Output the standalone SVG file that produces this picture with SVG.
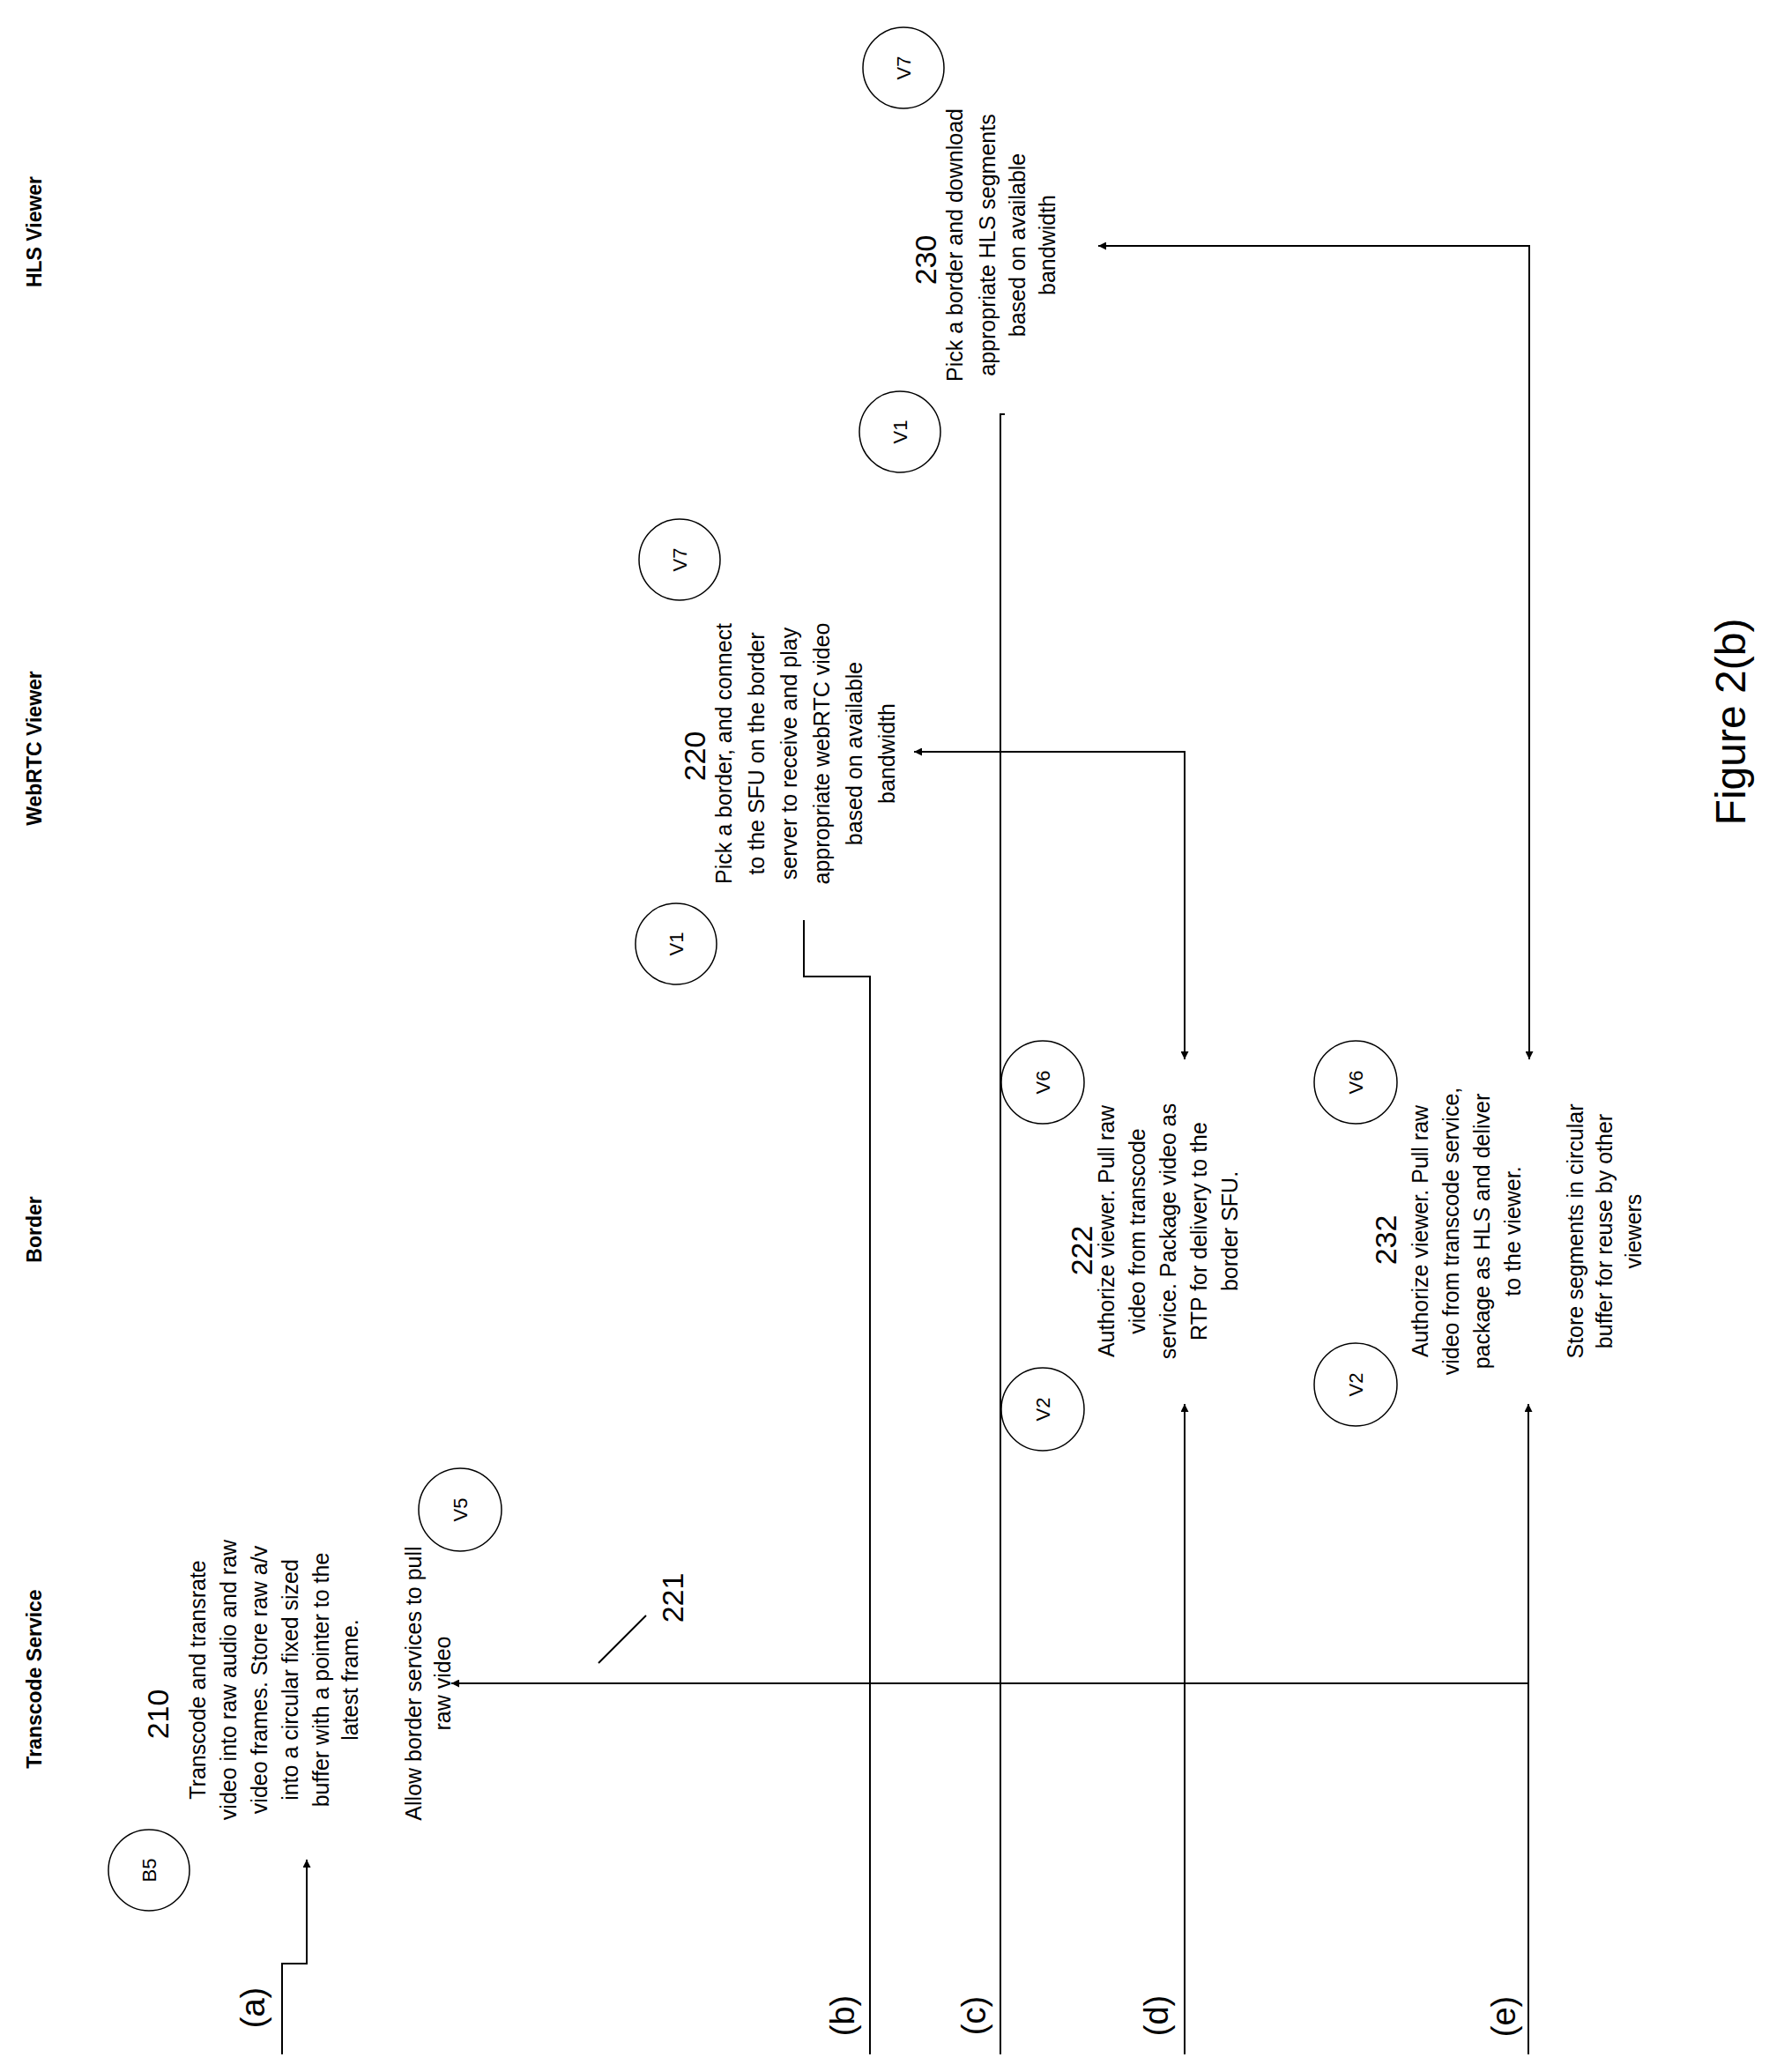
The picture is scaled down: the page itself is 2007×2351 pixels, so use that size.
<svg xmlns="http://www.w3.org/2000/svg" width="2007" height="2351" viewBox="0 0 2007 2351">
<style>
text{font-family:"Liberation Sans",Arial,sans-serif;fill:#000;text-anchor:middle}
.h{font-weight:bold;font-size:23px}
.t{font-size:25px}
.n{font-size:34px}
.l{font-size:38px}
.f{font-size:48px}
circle{fill:#fff;stroke:#000;stroke-width:1.5}
.c{font-size:22px}
.ln{fill:none;stroke:#000;stroke-width:2}
</style>
<defs>
<marker id="ah" viewBox="0 0 10 10" refX="10" refY="5" markerWidth="9" markerHeight="9" markerUnits="userSpaceOnUse" orient="auto-start-reverse"><path d="M0,0 L10,5 L0,10 z" fill="#000"/></marker>
</defs>
<rect width="2007" height="2351" fill="#fff"/>
<g id="headers">
<text class="h" transform="translate(47,1905) rotate(-90)">Transcode Service</text>
<text class="h" transform="translate(47,1395) rotate(-90)">Border</text>
<text class="h" transform="translate(47,849) rotate(-90)">WebRTC Viewer</text>
<text class="h" transform="translate(47,263) rotate(-90)">HLS Viewer</text>
</g>
<g id="connectors">
<path class="ln" d="M320,2331 V2228 H348 V2110" marker-end="url(#ah)"/>
<path class="ln" d="M1734,2331 V1910 H512" marker-end="url(#ah)"/>
<path class="ln" d="M679,1887 L733,1833"/>
<path class="ln" d="M987,2331 V1108 H912 V1044"/>
<path class="ln" d="M1135,2331 V470 H1140"/>
<path class="ln" d="M1344,2331 V1593" marker-end="url(#ah)"/>
<path class="ln" d="M1734,2331 V1593" marker-end="url(#ah)"/>
<path class="ln" d="M1037,853 H1344 V1202" marker-start="url(#ah)" marker-end="url(#ah)"/>
<path class="ln" d="M1246,279 H1735 V1202" marker-start="url(#ah)" marker-end="url(#ah)"/>
</g>
<g id="labels">
<text class="l" transform="translate(300,2278) rotate(-90)">(a)</text>
<text class="l" transform="translate(969,2287) rotate(-90)">(b)</text>
<text class="l" transform="translate(1118,2287) rotate(-90)">(c)</text>
<text class="l" transform="translate(1325,2287) rotate(-90)">(d)</text>
<text class="l" transform="translate(1719,2288) rotate(-90)">(e)</text>
<text class="n" transform="translate(775,1813) rotate(-90)">221</text>
</g>
<g id="node-210">
<circle cx="169" cy="2122" r="46"/><text class="c" transform="translate(177,2122) rotate(-90)">B5</text>
<text class="n" transform="translate(191,1945) rotate(-90)">210</text>
<text class="t" transform="translate(233,1906) rotate(-90)">Transcode and transrate</text>
<text class="t" transform="translate(268,1906) rotate(-90)">video into raw audio and raw</text>
<text class="t" transform="translate(303,1906) rotate(-90)">video frames. Store raw a/v</text>
<text class="t" transform="translate(338,1906) rotate(-90)">into a circular fixed sized</text>
<text class="t" transform="translate(373,1906) rotate(-90)">buffer with a pointer to the</text>
<text class="t" transform="translate(406,1906) rotate(-90)">latest frame.</text>
</g>
<g id="node-v5">
<circle cx="522" cy="1713" r="47"/><text class="c" transform="translate(530,1713) rotate(-90)">V5</text>
<text class="t" transform="translate(478,1910) rotate(-90)">Allow border services to pull</text>
<text class="t" transform="translate(511,1910) rotate(-90)">raw video</text>
</g>
<g id="node-220">
<circle cx="767" cy="1071" r="46"/><text class="c" transform="translate(775,1071) rotate(-90)">V1</text>
<circle cx="771" cy="635" r="46"/><text class="c" transform="translate(779,635) rotate(-90)">V7</text>
<text class="n" transform="translate(800,858) rotate(-90)">220</text>
<text class="t" transform="translate(830,855) rotate(-90)">Pick a border, and connect</text>
<text class="t" transform="translate(867,855) rotate(-90)">to the SFU on the border</text>
<text class="t" transform="translate(904,855) rotate(-90)">server to receive and play</text>
<text class="t" transform="translate(941,855) rotate(-90)">appropriate webRTC video</text>
<text class="t" transform="translate(978,855) rotate(-90)">based on available</text>
<text class="t" transform="translate(1015,855) rotate(-90)">bandwidth</text>
</g>
<g id="node-230">
<circle cx="1021" cy="490" r="46"/><text class="c" transform="translate(1029,490) rotate(-90)">V1</text>
<circle cx="1025" cy="77" r="46"/><text class="c" transform="translate(1033,77) rotate(-90)">V7</text>
<text class="n" transform="translate(1062,295) rotate(-90)">230</text>
<text class="t" transform="translate(1092,278) rotate(-90)">Pick a border and download</text>
<text class="t" transform="translate(1129,278) rotate(-90)">appropriate HLS segments</text>
<text class="t" transform="translate(1163,278) rotate(-90)">based on available</text>
<text class="t" transform="translate(1197,278) rotate(-90)">bandwidth</text>
</g>
<g id="node-222">
<circle cx="1183" cy="1228" r="47"/><text class="c" transform="translate(1191,1228) rotate(-90)">V6</text>
<circle cx="1183" cy="1599" r="47"/><text class="c" transform="translate(1191,1599) rotate(-90)">V2</text>
<text class="n" transform="translate(1239,1419) rotate(-90)">222</text>
<text class="t" transform="translate(1264,1397) rotate(-90)">Authorize viewer. Pull raw</text>
<text class="t" transform="translate(1299,1397) rotate(-90)">video from transcode</text>
<text class="t" transform="translate(1334,1397) rotate(-90)">service. Package video as</text>
<text class="t" transform="translate(1369,1397) rotate(-90)">RTP for delivery to the</text>
<text class="t" transform="translate(1404,1397) rotate(-90)">border SFU.</text>
</g>
<g id="node-232">
<circle cx="1538" cy="1228" r="47"/><text class="c" transform="translate(1546,1228) rotate(-90)">V6</text>
<circle cx="1538" cy="1571" r="47"/><text class="c" transform="translate(1546,1571) rotate(-90)">V2</text>
<text class="n" transform="translate(1584,1407) rotate(-90)">232</text>
<text class="t" transform="translate(1620,1397) rotate(-90)">Authorize viewer. Pull raw</text>
<text class="t" transform="translate(1655,1397) rotate(-90)">video from transcode service,</text>
<text class="t" transform="translate(1690,1397) rotate(-90)">package as HLS and deliver</text>
<text class="t" transform="translate(1725,1397) rotate(-90)">to the viewer.</text>
<text class="t" transform="translate(1796,1397) rotate(-90)">Store segments in circular</text>
<text class="t" transform="translate(1829,1397) rotate(-90)">buffer for reuse by other</text>
<text class="t" transform="translate(1862,1397) rotate(-90)">viewers</text>
</g>
<g id="caption">
<text class="f" transform="translate(1980,819) rotate(-90)">Figure 2(b)</text>
</g>
</svg>
